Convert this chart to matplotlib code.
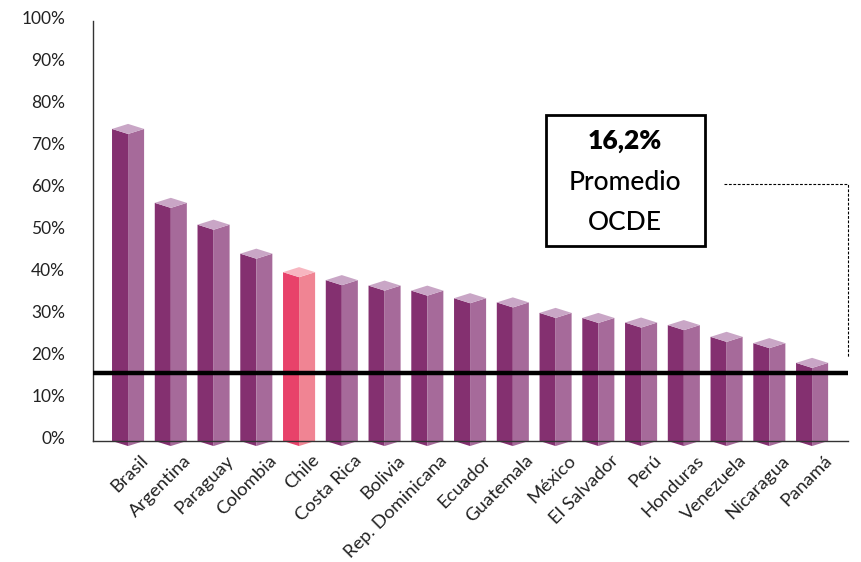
import matplotlib
matplotlib.use('Agg')
import matplotlib.pyplot as plt
import matplotlib.transforms as mtransforms
from matplotlib.patches import Polygon
import numpy as np

plt.rcParams['font.family'] = ['Lato', 'DejaVu Sans']

paises = ['Brasil', 'Argentina', 'Paraguay', 'Colombia', 'Chile', 'Costa Rica',
          'Bolivia', 'Rep. Dominicana', 'Ecuador', 'Guatemala', 'México',
          'El Salvador', 'Perú', 'Honduras', 'Venezuela', 'Nicaragua', 'Panamá']
valores = [74.3, 56.7, 51.5, 44.6, 40.2, 38.3, 37.0, 35.8, 34.0, 33.0, 30.5,
           29.3, 28.2, 27.6, 24.8, 23.3, 18.6]
promedio_ocde = 16.2
yticks = np.arange(0, 101, 10)
ytick_labels = [f'{v}%' for v in yticks]

# colores (cara izquierda, cara derecha, tapa)
morado = ('#843070', '#a66a9a', '#c9a6c6')
rosado = ('#e8426a', '#f08493', '#f7b6c0')

fig = plt.figure(figsize=(8.61, 5.62), dpi=100)
ax = fig.add_axes([93 / 861, (562 - 441) / 562, (848 - 93) / 861, (441 - 21) / 562])

w = 0.375   # media anchura de la barra
d = 1.2     # desfase de la perspectiva
for i, v in enumerate(valores):
    izq, der, tapa = rosado if paises[i] == 'Chile' else morado
    xl, xm, xr = i - w, i, i + w
    ax.add_patch(Polygon([(xl, v), (xm, v - d), (xm, -d), (xl, 0)],
                         closed=True, fc=izq, ec='none', clip_on=False, zorder=2))
    ax.add_patch(Polygon([(xm, v - d), (xr, v), (xr, 0), (xm, -d)],
                         closed=True, fc=der, ec='none', clip_on=False, zorder=2))
    ax.add_patch(Polygon([(xl, v), (xm, v - d), (xr, v), (xm, v + d)],
                         closed=True, fc=tapa, ec='none', clip_on=False, zorder=2))

ax.set_xlim(-0.82, len(paises) - 1 + 0.84)
ax.set_ylim(0, 100)

ax.axhline(promedio_ocde, color='black', lw=3.2, zorder=3)

ax.spines['top'].set_visible(False)
ax.spines['right'].set_visible(False)
for s in ('left', 'bottom'):
    ax.spines[s].set_color('#333333')
    ax.spines[s].set_linewidth(1.0)

ax.set_yticks(yticks)
ax.set_yticklabels(ytick_labels, fontsize=12.5, color='#222222')
ax.tick_params(axis='y', length=0, pad=20)
yoff = mtransforms.ScaledTranslation(0, 3 / 100, fig.dpi_scale_trans)
for lbl in ax.get_yticklabels():
    lbl.set_transform(lbl.get_transform() + yoff)

ax.set_xticks(range(len(paises)))
ax.set_xticklabels(paises, rotation=45, ha='right', rotation_mode='anchor',
                   fontsize=13.3, color='#222222')
ax.tick_params(axis='x', length=0, pad=8)
offset = mtransforms.ScaledTranslation(12 / 100, 0, fig.dpi_scale_trans)
for lbl in ax.get_xticklabels():
    lbl.set_transform(lbl.get_transform() + offset)

# recuadro con el promedio
fig.text(625 / 861, 1 - 141 / 562, '16,2%', ha='center', va='center',
         fontsize=19, fontweight='heavy')
fig.text(625 / 861, 1 - 183 / 562, 'Promedio', ha='center', va='center',
         fontsize=19, fontweight='medium')
fig.text(625 / 861, 1 - 223 / 562, 'OCDE', ha='center', va='center',
         fontsize=19, fontweight='medium')
fig.patches.append(plt.Rectangle((546 / 861, 1 - 246 / 562), 159 / 861, 131 / 562,
                                 transform=fig.transFigure, fill=False,
                                 ec='black', lw=2))
fig.add_artist(plt.Line2D([724 / 861, 848 / 861, 848 / 861],
                          [1 - 184 / 562, 1 - 184 / 562, 1 - 357 / 562],
                          transform=fig.transFigure, color='black', lw=0.8,
                          ls=(0, (2.5, 1.5))))

fig.savefig('out.png', dpi=100)
